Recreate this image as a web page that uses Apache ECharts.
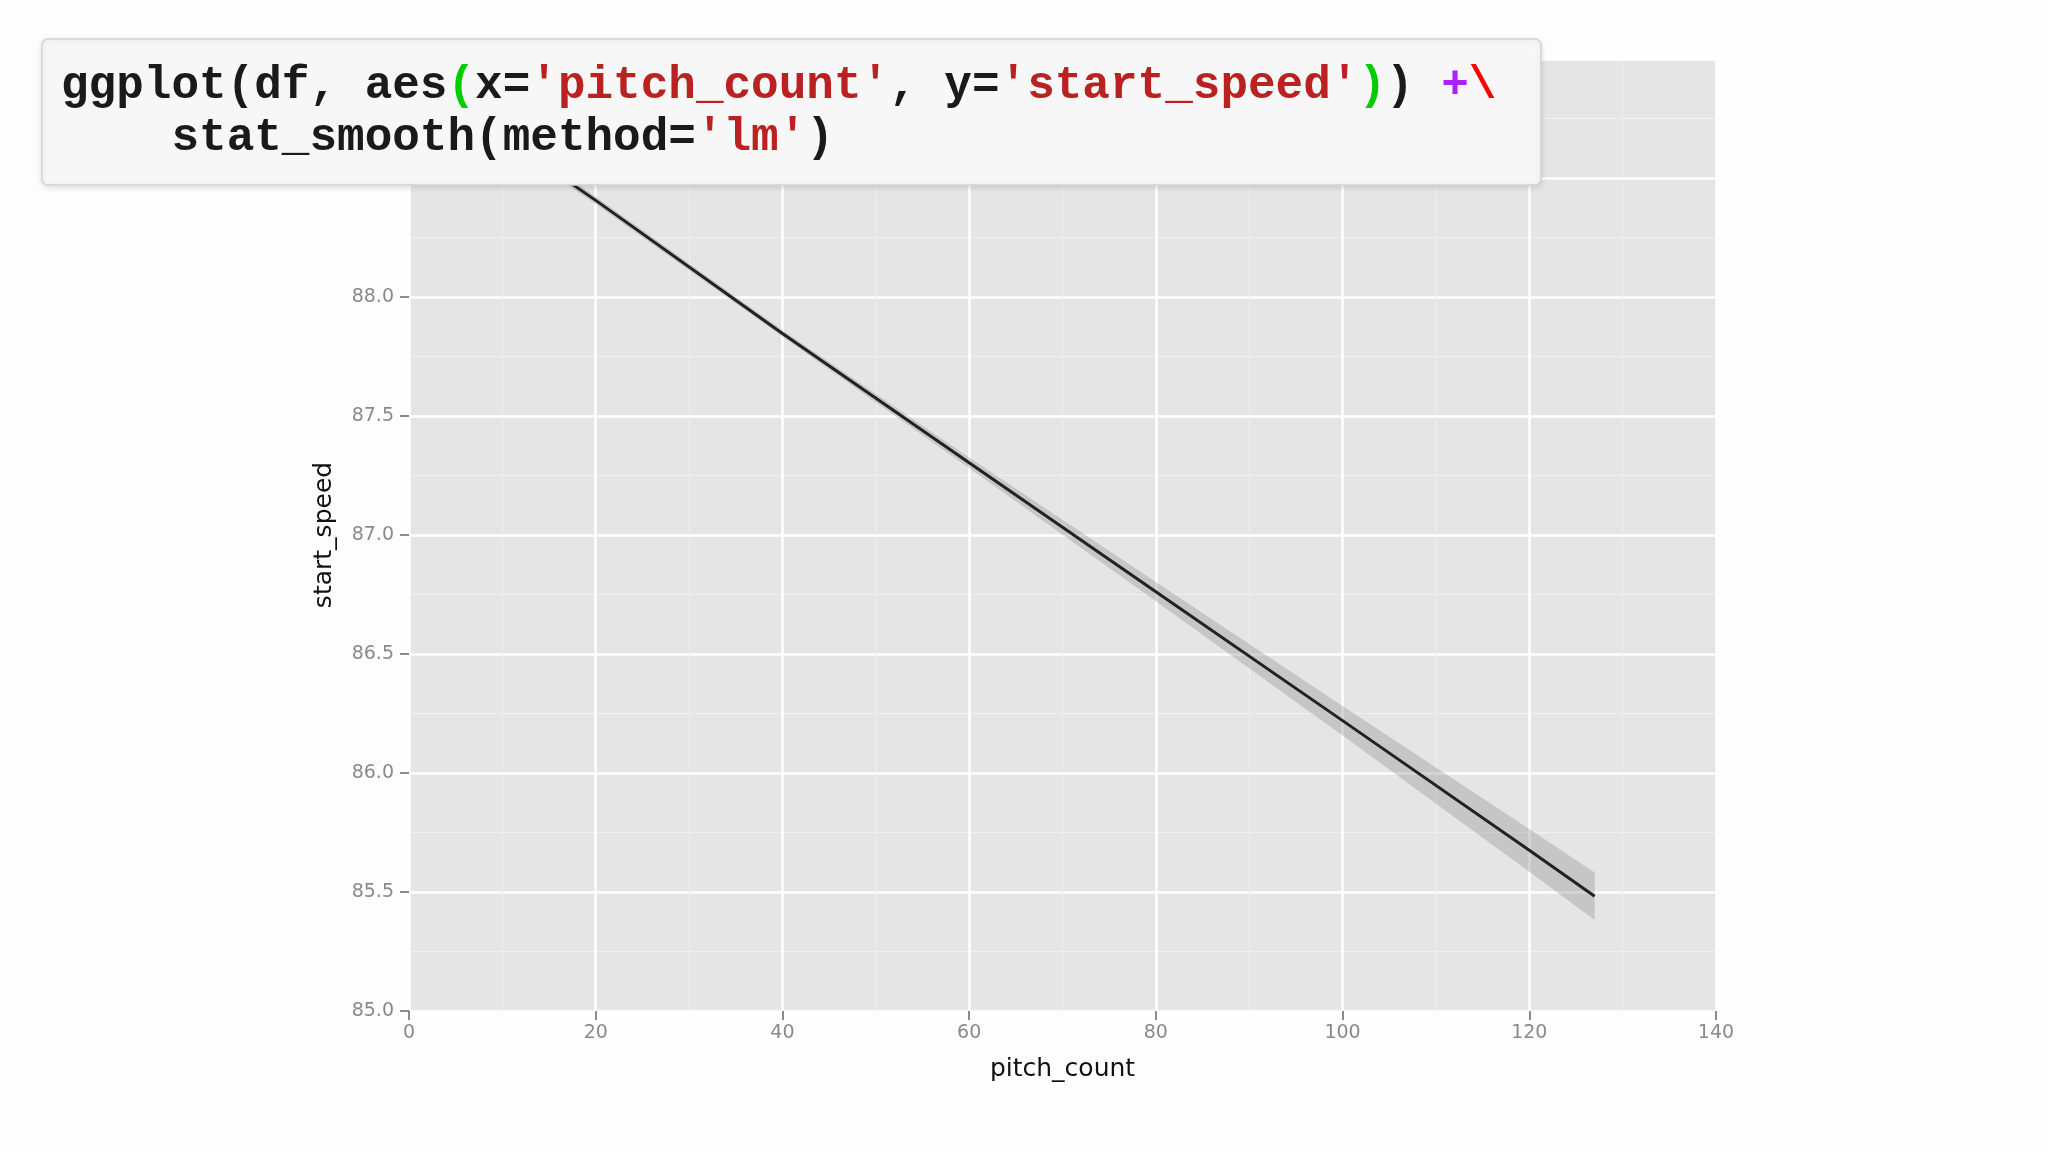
<!DOCTYPE html>
<html>
<head>
<meta charset="utf-8">
<script src="https://cdn.jsdelivr.net/npm/echarts@6/dist/echarts.min.js"></script>
<style>
  html, body { margin: 0; padding: 0; background: #fdfdfd; }
  #chart { width: 2048px; height: 1152px; }
</style>
</head>
<body>
<div id="chart"></div>
<script>
// values
var pitchCount = [1, 20, 40, 60, 80, 100, 120, 127];
var startSpeed = [88.92, 88.406, 87.847, 87.304, 86.762, 86.22, 85.675, 85.482];
var bandHalf   = [0.03, 0.015, 0.013, 0.022, 0.04, 0.062, 0.09, 0.1];

var xTicks = [0, 20, 40, 60, 80, 100, 120, 140];
var yTicks = [85.0, 85.5, 86.0, 86.5, 87.0, 87.5, 88.0, 88.5, 89.0];

var codeLine1 = [
  ['d', 'ggplot(df, aes'], ['g', '('], ['d', 'x='], ['s', "'pitch_count'"],
  ['d', ', y='], ['s', "'start_speed'"], ['g', ')'], ['d', ') '], ['p', '+'], ['r', '\\']
];
var codeLine2 = [['d', '    stat_smooth(method='], ['s', "'lm'"], ['d', ')']];

var band = startSpeed.map(function (v, i) {
  return [pitchCount[i], v - bandHalf[i], v + bandHalf[i]];
});
var fit = startSpeed.map(function (v, i) { return [pitchCount[i], v]; });

function rich(parts) {
  return parts.map(function (p) { return '{' + p[0] + '|' + p[1] + '}'; }).join('');
}
var codeFont = { fontFamily: 'Liberation Mono', fontSize: 46, fontWeight: 'bold' };
var codeRich = {
  d: Object.assign({ fill: '#1a1a1a' }, codeFont),
  s: Object.assign({ fill: '#ba2121' }, codeFont),
  g: Object.assign({ fill: '#00cc00' }, codeFont),
  p: Object.assign({ fill: '#aa22ff' }, codeFont),
  r: Object.assign({ fill: '#ff0000' }, codeFont)
};

var chart = echarts.init(document.getElementById('chart'));
chart.setOption({
  backgroundColor: '#fdfdfd',
  animation: false,
  grid: {
    left: 409, top: 59, width: 1307, height: 952,
    show: true, backgroundColor: '#e5e5e5', borderWidth: 0
  },
  xAxis: {
    type: 'value', min: xTicks[0], max: xTicks[xTicks.length - 1], interval: 20,
    name: 'pitch_count', nameLocation: 'middle', nameGap: 46,
    nameTextStyle: { fontFamily: 'DejaVu Sans', fontSize: 25, color: '#111' },
    axisLine: { show: false },
    axisTick: { show: true, length: 9, lineStyle: { color: '#666', width: 1.5 } },
    axisLabel: { fontFamily: 'DejaVu Sans', fontSize: 19, color: '#8a8a8a', margin: 13 },
    splitLine: { show: true, lineStyle: { color: '#ffffff', width: 2.5 } },
    minorTick: { show: false, splitNumber: 2 },
    minorSplitLine: { show: true, lineStyle: { color: '#f0f0f0', width: 1 } }
  },
  yAxis: {
    type: 'value', min: yTicks[0], max: yTicks[yTicks.length - 1], interval: 0.5,
    name: 'start_speed', nameLocation: 'middle', nameGap: 72, nameRotate: 90,
    nameTextStyle: { fontFamily: 'DejaVu Sans', fontSize: 25, color: '#111' },
    axisLine: { show: false },
    axisTick: { show: true, length: 9, lineStyle: { color: '#666', width: 1.5 } },
    axisLabel: {
      fontFamily: 'DejaVu Sans', fontSize: 19, color: '#8a8a8a', margin: 15,
      formatter: function (v) { return v.toFixed(1); }
    },
    splitLine: { show: true, lineStyle: { color: '#ffffff', width: 2.5 } },
    minorTick: { show: false, splitNumber: 2 },
    minorSplitLine: { show: true, lineStyle: { color: '#f0f0f0', width: 1 } }
  },
  series: [
    {
      // confidence band as one polygon through the axis scales
      type: 'custom', data: band, clip: true, silent: true,
      renderItem: function (params, api) {
        if (params.dataIndex !== 0) return;
        var top = band.map(function (d) { return api.coord([d[0], d[2]]); });
        var bot = band.slice().reverse().map(function (d) { return api.coord([d[0], d[1]]); });
        return {
          type: 'polygon',
          shape: { points: top.concat(bot) },
          style: { fill: 'rgba(153,153,153,0.4)' }
        };
      },
      encode: { x: 0, y: [1, 2] }
    },
    {
      type: 'line', data: fit, symbol: 'none',
      lineStyle: { color: '#222', width: 3 }
    }
  ],
  graphic: [
    {
      type: 'rect', z: 100, zlevel: 1,
      shape: { x: 42, y: 39, width: 1499, height: 146, r: 6 },
      style: {
        fill: '#f7f7f7', stroke: '#d2d2d2', lineWidth: 1.5,
        shadowBlur: 6, shadowColor: 'rgba(0,0,0,0.12)', shadowOffsetY: 2
      }
    },
    {
      type: 'text', z: 101, zlevel: 1, x: 61, y: 86,
      style: { text: rich(codeLine1), rich: codeRich, verticalAlign: 'middle' }
    },
    {
      type: 'text', z: 101, zlevel: 1, x: 61, y: 138,
      style: { text: rich(codeLine2), rich: codeRich, verticalAlign: 'middle' }
    }
  ]
});
</script>
</body>
</html>
